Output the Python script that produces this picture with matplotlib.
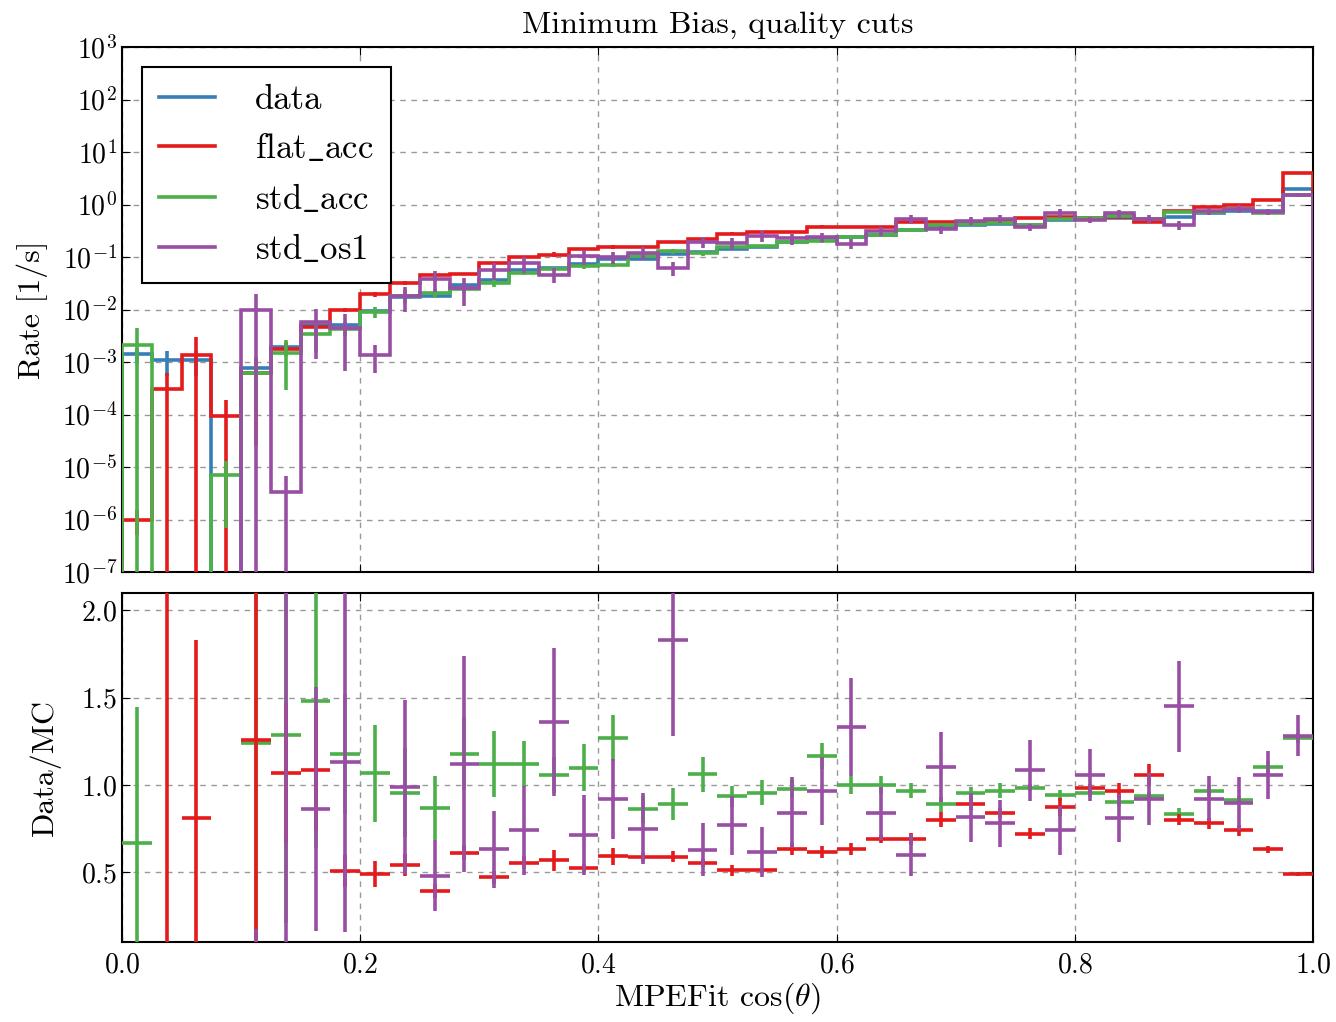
import numpy as np
import matplotlib
matplotlib.use("Agg")
import matplotlib.pyplot as plt
from matplotlib.lines import Line2D

plt.rcParams.update({
    "font.family": "serif",
    "font.serif": ["cmr10"],
    "mathtext.fontset": "cm",
    "axes.formatter.use_mathtext": True,
    "axes.unicode_minus": False,
    "xtick.direction": "in",
    "ytick.direction": "in",
    "xtick.top": True,
    "ytick.right": True,
    "xtick.major.size": 6,
    "ytick.major.size": 6,
    "ytick.minor.size": 3,
    "xtick.major.pad": 7,
    "axes.linewidth": 1.5,
})

# 40 bins in cos(theta), rates in 1/s
bin_edges = np.linspace(0.0, 1.0, 41)

rate_data = np.array([
    1.4e-3, 1.1e-3, 1.1e-3, 0.0, 7.8e-4, 1.9e-3, 5.0e-3, 5.0e-3, 9.5e-3, 1.75e-2,
    1.8e-2, 2.9e-2, 3.6e-2, 5.6e-2, 6.3e-2, 7.4e-2, 9.1e-2, 9.0e-2, 0.115, 0.124,
    0.143, 0.153, 0.19, 0.234, 0.24, 0.26, 0.32, 0.37, 0.40, 0.42,
    0.40, 0.50, 0.54, 0.55, 0.49, 0.59, 0.69, 0.74, 0.76, 1.95])
rel_data = np.array([
    0.3, 0.5, 0.5, 0.0, 0.6, 0.25, 0.15, 0.15, 0.1, 0.07,
    0.07, 0.05, 0.05, 0.04, 0.04, 0.02, 0.02, 0.02, 0.02, 0.02,
    0.02, 0.02, 0.02, 0.02, 0.02, 0.02, 0.02, 0.02, 0.02, 0.02,
    0.02, 0.02, 0.02, 0.02, 0.02, 0.02, 0.01, 0.01, 0.01, 0.01])

rate_flat = np.array([
    1.0e-6, 3.1e-4, 1.36e-3, 9.3e-5, 6.2e-4, 1.78e-3, 4.6e-3, 9.9e-3, 1.94e-2, 3.24e-2,
    4.6e-2, 4.75e-2, 7.66e-2, 0.101, 0.111, 0.141, 0.154, 0.153, 0.195, 0.225,
    0.280, 0.300, 0.299, 0.380, 0.378, 0.377, 0.464, 0.4625, 0.449, 0.50,
    0.556, 0.571, 0.551, 0.569, 0.464, 0.7375, 0.885, 1.0, 1.206, 3.98])
rel_flat = np.array([
    0.5, 1.0, 1.16, 1.0, 0.96, 0.28, 0.28, 0.1, 0.12, 0.09,
    0.08, 0.05, 0.06, 0.05, 0.1, 0.04, 0.08, 0.035, 0.05, 0.035,
    0.06, 0.02, 0.05, 0.05, 0.05, 0.03, 0.045, 0.05, 0.035, 0.025,
    0.04, 0.055, 0.02, 0.04, 0.055, 0.035, 0.04, 0.04, 0.03, 0.02])

rate_std = np.array([
    2.1e-3, 0.0, 0.0, 7.0e-6, 6.3e-4, 1.48e-3, 3.38e-3, 4.24e-3, 8.9e-3, 1.83e-2,
    2.07e-2, 2.46e-2, 3.21e-2, 5.0e-2, 5.96e-2, 6.73e-2, 7.17e-2, 0.1047, 0.129, 0.117,
    0.153, 0.160, 0.194, 0.201, 0.24, 0.26, 0.331, 0.416, 0.419, 0.435,
    0.406, 0.532, 0.565, 0.608, 0.524, 0.707, 0.714, 0.809, 0.691, 1.535])
rel_std = np.array([
    1.13, 0.0, 0.0, 0.9, 0.8, 0.8, 0.55, 0.25, 0.24, 0.26,
    0.2, 0.17, 0.16, 0.11, 0.09, 0.12, 0.1, 0.09, 0.1, 0.09,
    0.06, 0.07, 0.05, 0.06, 0.05, 0.05, 0.04, 0.045, 0.03, 0.04,
    0.01, 0.03, 0.02, 0.02, 0.02, 0.035, 0.03, 0.02, 0.03, 0.02])

rate_os1 = np.array([
    0.0, 0.0, 0.0, 0.0, 9.8e-3, 3.4e-6, 5.8e-3, 4.42e-3, 1.35e-3, 1.77e-2,
    3.75e-2, 2.59e-2, 5.71e-2, 7.57e-2, 4.63e-2, 0.104, 9.9e-2, 0.12, 6.28e-2, 0.197,
    0.186, 0.249, 0.226, 0.242, 0.180, 0.31, 0.533, 0.336, 0.491, 0.538,
    0.369, 0.676, 0.511, 0.679, 0.533, 0.407, 0.75, 0.827, 0.719, 1.52])
rel_os1 = np.array([
    0.0, 0.0, 0.0, 0.0, 1.0, 1.0, 0.8, 0.85, 0.55, 0.5,
    0.42, 0.55, 0.35, 0.34, 0.31, 0.32, 0.25, 0.27, 0.3, 0.24,
    0.22, 0.23, 0.24, 0.2, 0.21, 0.18, 0.2, 0.18, 0.17, 0.17,
    0.16, 0.19, 0.14, 0.17, 0.16, 0.18, 0.14, 0.17, 0.13, 0.09])

c_data = "#377eb8"
c_flat = "#e41a1c"
c_std = "#4daf4a"
c_os1 = "#984ea3"

centers = 0.5 * (bin_edges[1:] + bin_edges[:-1])
half_w = 0.5 * np.diff(bin_edges)
lw = 2.6

fig = plt.figure(figsize=(13.36, 10.22), dpi=100)
ax1 = fig.add_axes([0.0913, 0.4403, 0.8915, 0.5137])
ax2 = fig.add_axes([0.0913, 0.0783, 0.8915, 0.3415], sharex=ax1)

series = [
    (rate_data, rel_data, c_data, "data"),
    (rate_flat, rel_flat, c_flat, r"$\mathrm{flat\_acc}$"),
    (rate_std, rel_std, c_std, r"$\mathrm{std\_acc}$"),
    (rate_os1, rel_os1, c_os1, r"$\mathrm{std\_os1}$"),
]

handles = []
for i, (rate, rel, col, lab) in enumerate(series):
    ax1.stairs(rate, bin_edges, color=col, lw=lw, baseline=0, zorder=2 + i)
    ax1.errorbar(centers, rate, yerr=rate * rel, fmt="none", ecolor=col,
                 elinewidth=lw, capsize=0, zorder=2 + i)
    handles.append(Line2D([], [], color=col, lw=lw, label=lab))

ax1.set_yscale("log")
ax1.set_ylim(1e-7, 1e3)
ax1.set_xlim(0, 1)
ax1.set_yticks(10.0 ** np.arange(-7, 4))
ax1.tick_params(labelbottom=False, labelsize=20)
ax1.set_ylabel("Rate [1/s]", fontsize=23, labelpad=10)
ax1.set_title("Minimum Bias, quality cuts", fontsize=23, pad=10)
ax1.grid(True, color="0.6", linestyle=(0, (4, 4)), lw=1)

leg = ax1.legend(handles=handles, loc="upper left", bbox_to_anchor=(0.0168, 0.962),
                 borderaxespad=0, fontsize=25, handlelength=1.6, handletextpad=1.15,
                 labelspacing=0.5, borderpad=0.5, fancybox=False, framealpha=1)
leg.get_frame().set_edgecolor("black")
leg.get_frame().set_linewidth(1.5)

# data / MC ratio, drawn so that flat_acc covers std_acc and std_os1 covers both
for rate_mc, rel_mc, col, z in [(rate_std, rel_std, c_std, 3),
                                (rate_flat, rel_flat, c_flat, 4),
                                (rate_os1, rel_os1, c_os1, 5)]:
    ratio = np.full(rate_data.shape, np.nan)
    ok = rate_mc > 0
    ratio[ok] = rate_data[ok] / rate_mc[ok]
    ratio_err = ratio * np.hypot(rel_data, rel_mc)
    ax2.errorbar(centers, ratio, xerr=half_w, yerr=ratio_err, fmt="none",
                 ecolor=col, elinewidth=lw, capsize=0, zorder=z)

ax2.set_ylim(0.1, 2.1)
ax2.set_xlim(0, 1)
ax2.set_yticks([0.5, 1.0, 1.5, 2.0])
ax2.set_xticks(np.arange(0, 1.01, 0.2))
ax2.tick_params(labelsize=20)
ax2.set_ylabel("Data/MC", fontsize=23, labelpad=14)
ax2.set_xlabel(r"MPEFit $\cos(\theta)$", fontsize=23, labelpad=2)
ax2.grid(True, color="0.6", linestyle=(0, (4, 4)), lw=1)

fig.savefig("out.png", dpi=100)
